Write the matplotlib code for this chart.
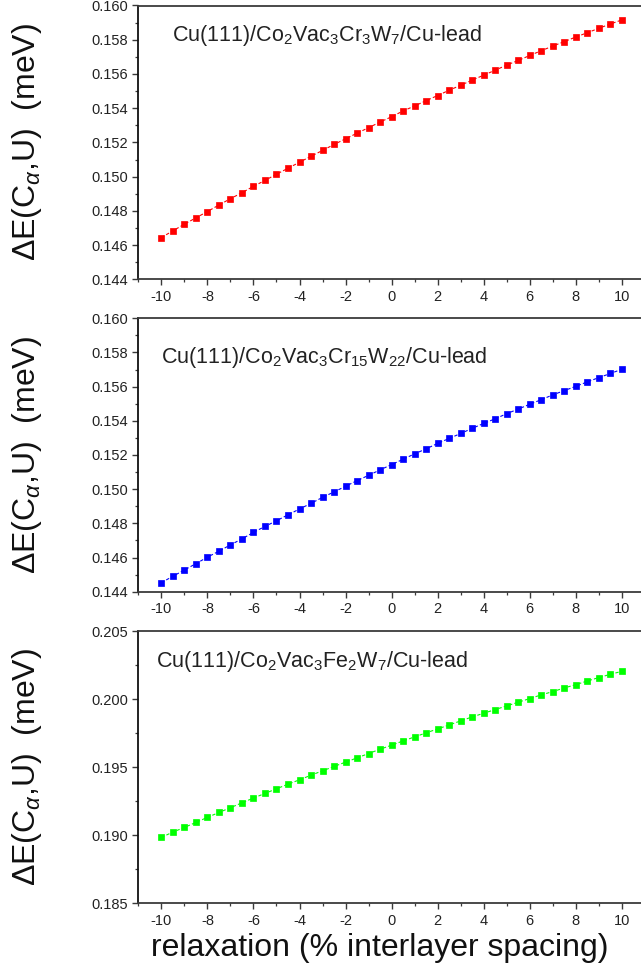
import numpy as np
import matplotlib
matplotlib.use("Agg")
import matplotlib.pyplot as plt
from matplotlib.ticker import MultipleLocator, FormatStrFormatter

plt.rcParams['font.family'] = ['Liberation Sans', 'DejaVu Sans']
plt.rcParams['mathtext.fontset'] = 'custom'
plt.rcParams['mathtext.rm'] = 'Liberation Sans'
plt.rcParams['mathtext.it'] = 'Liberation Sans:italic'
plt.rcParams['mathtext.bf'] = 'Liberation Sans:bold'

relaxation = [-10, -9.5, -9, -8.5, -8, -7.5, -7, -6.5, -6, -5.5, -5, -4.5, -4, -3.5, -3,
              -2.5, -2, -1.5, -1, -0.5, 0, 0.5, 1, 1.5, 2, 2.5, 3, 3.5, 4, 4.5, 5,
              5.5, 6, 6.5, 7, 7.5, 8, 8.5, 9, 9.5, 10]

dE_Cr3W7 = [0.14644, 0.14683, 0.14722, 0.14759, 0.14796, 0.14834, 0.14871, 0.14906,
            0.14943, 0.14978, 0.15014, 0.15049, 0.15084, 0.15119, 0.15153, 0.15188,
            0.15221, 0.15254, 0.15286, 0.15319, 0.15350, 0.15384, 0.15413, 0.15444,
            0.15474, 0.15505, 0.15534, 0.15564, 0.15593, 0.15622, 0.15652, 0.15679,
            0.15708, 0.15736, 0.15763, 0.15789, 0.15816, 0.15841, 0.15867, 0.15892,
            0.15916]

dE_Cr15W22 = [0.14453, 0.14490, 0.14527, 0.14564, 0.14602, 0.14637, 0.14674, 0.14709,
              0.14747, 0.14782, 0.14815, 0.14850, 0.14884, 0.14917, 0.14952, 0.14984,
              0.15017, 0.15050, 0.15081, 0.15113, 0.15144, 0.15175, 0.15207, 0.15236,
              0.15268, 0.15297, 0.15326, 0.15356, 0.15385, 0.15412, 0.15442, 0.15469,
              0.15497, 0.15524, 0.15552, 0.15577, 0.15602, 0.15628, 0.15653, 0.15677,
              0.15702]

dE_Fe2W7 = [0.18984, 0.19023, 0.19057, 0.19094, 0.19131, 0.19167, 0.19202, 0.19238,
            0.19273, 0.19307, 0.19341, 0.19375, 0.19407, 0.19441, 0.19473, 0.19505,
            0.19537, 0.19568, 0.19600, 0.19632, 0.19661, 0.19693, 0.19722, 0.19752,
            0.19781, 0.19810, 0.19840, 0.19869, 0.19896, 0.19923, 0.19950, 0.19977,
            0.20004, 0.20031, 0.20055, 0.20082, 0.20106, 0.20133, 0.20158, 0.20182,
            0.20204]

panel_titles = [r'Cu(111)/Co$_2$Vac$_3$Cr$_3$W$_7$/Cu-lead',
                r'Cu(111)/Co$_2$Vac$_3$Cr$_{15}$W$_{22}$/Cu-lead',
                r'Cu(111)/Co$_2$Vac$_3$Fe$_2$W$_7$/Cu-lead']
series = [dE_Cr3W7, dE_Cr15W22, dE_Fe2W7]
colors = ['#ff0000', '#0000ff', '#00ff00']
ylims = [(0.144, 0.160), (0.144, 0.160), (0.185, 0.205)]
ymajor = [0.002, 0.002, 0.005]
yminor = [0.001, 0.001, 0.0025]
ylabel = 'ΔE(C$_{α}$,U)  (meV)'
xlabel = 'relaxation (% interlayer spacing)'

W, H = 641, 975
fig = plt.figure(figsize=(W / 100, H / 100), dpi=100)

# axes boxes in pixels: (top, bottom)
boxes = [(5.5, 279.3), (318.3, 591.7), (631.0, 903.3)]
left_px = 138.3
width_px = 22 * 23.03
title_pos = [(172, 40.7), (160.7, 363.3), (156, 666.7)]

spine_col = '#3a3a3a'
for i in range(3):
    top, bot = boxes[i]
    ax = fig.add_axes([left_px / W, 1 - bot / H, width_px / W, (bot - top) / H])
    ax.plot(relaxation, series[i], linestyle=(0, (3, 2)), linewidth=0.8,
            color=colors[i], marker='s', markersize=4.8,
            markerfacecolor=colors[i], markeredgecolor=colors[i], markeredgewidth=0.5)
    ax.set_xlim(-11, 11)
    ax.set_ylim(*ylims[i])
    ax.xaxis.set_major_locator(MultipleLocator(2))
    ax.xaxis.set_minor_locator(MultipleLocator(1))
    ax.yaxis.set_major_locator(MultipleLocator(ymajor[i]))
    ax.yaxis.set_minor_locator(MultipleLocator(yminor[i]))
    ax.yaxis.set_major_formatter(FormatStrFormatter('%.3f'))
    ax.xaxis.set_major_formatter(FormatStrFormatter('%d'))
    ax.tick_params(which='both', direction='out', top=False, right=False,
                   colors=spine_col, labelcolor='#222222', labelsize=10.5)
    ax.tick_params(which='major', length=4.5, width=1.0, pad=3)
    ax.tick_params(which='minor', length=2.5, width=0.9)
    for s in ['left', 'bottom', 'top']:
        ax.spines[s].set_color(spine_col)
        ax.spines[s].set_linewidth(1.3)
    ax.spines['left'].set_color('#111111')
    ax.spines['right'].set_visible(False)
    tx, ty = title_pos[i]
    fig.text(tx / W, 1 - ty / H, panel_titles[i], fontsize=15.5, color='#222222',
             ha='left', va='baseline')
    fig.text(27 / W, 1 - ((top + bot) / 2) / H, ylabel, fontsize=23, rotation=90,
             ha='center', va='center', color='#111111')

fig.text(380 / W, 1 - 948 / H, xlabel, fontsize=23, ha='center', va='center',
         color='#111111')

fig.savefig('out.png', dpi=100)
